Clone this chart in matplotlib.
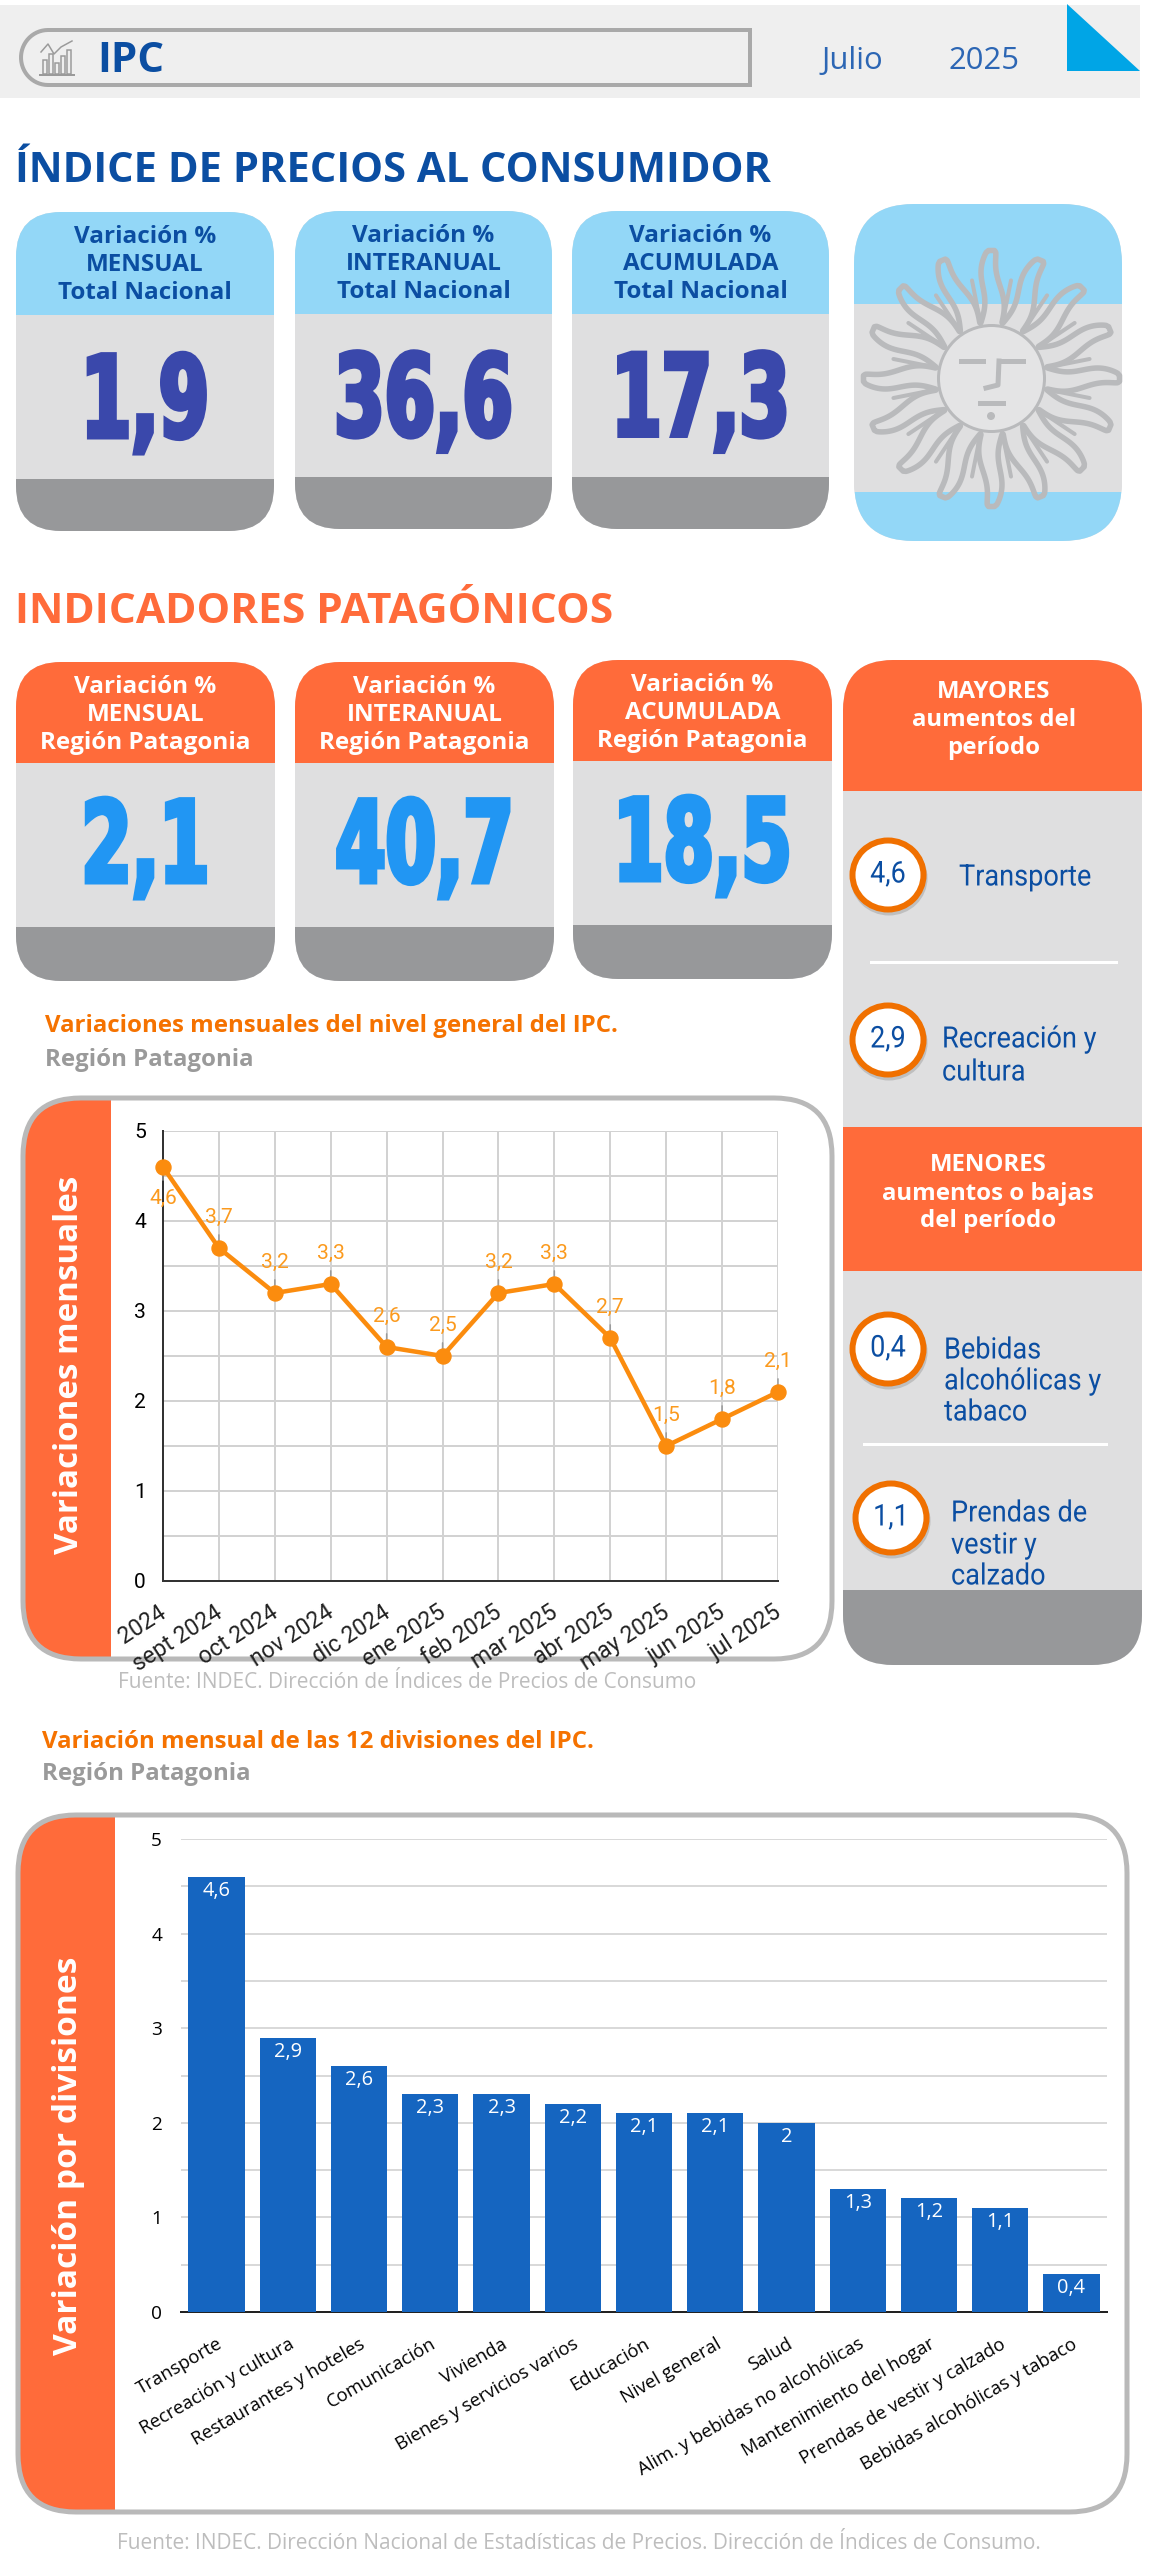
import matplotlib
matplotlib.use("Agg")
import matplotlib.pyplot as plt
import matplotlib.patheffects as pe
import numpy as np
from matplotlib.patches import Ellipse, FancyBboxPatch, Polygon, Rectangle
from matplotlib.transforms import Affine2D, Bbox

W, H = 1150, 2560
SANS = ["Open Sans", "DejaVu Sans"]
HEAVY = ["DejaVu Sans"]
ROBOTO = ["Roboto", "DejaVu Sans"]

BLUE_TXT = "#0b4ea2"
ORANGE = "#ff6b3a"
SKY = "#93d7f7"
CARD = "#dfdfe0"
BOTTOM = "#97989a"

MONTH = "Julio"
YEAR = "2025"
NATIONAL_KINDS = ["MENSUAL", "INTERANUAL", "ACUMULADA"]
NATIONAL_VALUES = ["1,9", "36,6", "17,3"]
PATAGONIA_VALUES = ["2,1", "40,7", "18,5"]

MONTHS = ["ago 2024", "sept 2024", "oct 2024", "nov 2024", "dic 2024", "ene 2025",
          "feb 2025", "mar 2025", "abr 2025", "may 2025", "jun 2025", "jul 2025"]
MONTHLY = [4.6, 3.7, 3.2, 3.3, 2.6, 2.5, 3.2, 3.3, 2.7, 1.5, 1.8, 2.1]

DIVISIONS = ["Transporte", "Recreación y cultura", "Restaurantes y hoteles", "Comunicación",
             "Vivienda", "Bienes y servicios varios", "Educación", "Nivel general", "Salud",
             "Alim. y bebidas no alcohólicas", "Mantenimiento del hogar",
             "Prendas de vestir y calzado", "Bebidas alcohólicas y tabaco"]
DIVISION_VALUES = [4.6, 2.9, 2.6, 2.3, 2.3, 2.2, 2.1, 2.1, 2.0, 1.3, 1.2, 1.1, 0.4]


class Condense(pe.AbstractPathEffect):
    """Squeeze text horizontally around x, with an optional outline to fatten it."""

    def __init__(self, x, factor, stroke=0.0):
        super().__init__()
        self.x = x
        self.factor = factor
        self.stroke = stroke

    def draw_path(self, renderer, gc, tpath, affine, rgbFace=None):
        squeeze = Affine2D().translate(-self.x, 0).scale(self.factor, 1).translate(self.x, 0)
        gc0 = renderer.new_gc()
        gc0.copy_properties(gc)
        gc0.set_linewidth(self.stroke * 0.72)
        gc0.set_foreground(rgbFace)
        gc0.set_joinstyle("miter")
        renderer.draw_path(gc0, tpath, affine + squeeze, rgbFace)
        gc0.restore()


def pt(px):
    """Font size or line width given in pixels, in points."""
    return px * 0.72


def comma(v):
    return f"{v:g}".replace(".", ",")


def add_text(bg, x, y, s, size, color, family=SANS, weight="normal", ha="center", **kw):
    if "rotation" not in kw:
        y += size * (0.09 if family is SANS else 0.05 if family is ROBOTO else 0)
    return bg.text(x, y, s, fontsize=pt(size), color=color, family=family, weight=weight,
                   ha=ha, va="center", **kw)


def rounded(bg, x0, y0, x1, y1, radius, **kw):
    patch = FancyBboxPatch((x0, y0), x1 - x0, y1 - y0,
                           boxstyle=f"round,pad=0,rounding_size={radius}", **kw)
    bg.add_patch(patch)
    return patch


def banded_card(bg, x0, y0, x1, y1, split1, split2, top, mid, bottom, radius=45):
    clip = rounded(bg, x0, y0, x1, y1, radius, facecolor=mid, edgecolor="none")
    for a, b, c in [(y0, split1, top), (split1, split2, mid), (split2, y1, bottom)]:
        r = Rectangle((x0, a), x1 - x0, b - a, facecolor=c, edgecolor="none")
        bg.add_patch(r)
        r.set_clip_path(clip)


def kpi_card(bg, x0, y0, x1, y1, split1, split2, top, lines, txt_color, value, val_color, dy=0):
    banded_card(bg, x0, y0, x1, y1, split1, split2, top, CARD, BOTTOM)
    cx = (x0 + x1) / 2
    for i, line in enumerate(lines):
        add_text(bg, cx, y0 + 23 + i * 27.7, line, 24.2, txt_color, weight="bold")
    add_text(bg, cx, (split1 + split2) / 2 + dy, value, 113, val_color, family=HEAVY, weight="bold",
             path_effects=[Condense(cx, 0.64, 5)])


def draw_header(bg):
    bg.add_patch(Rectangle((0, 5), 1140, 93, facecolor="#efefef", edgecolor="none"))
    t = np.linspace(np.pi / 2, 3 * np.pi / 2, 30)
    arc = np.c_[48 + 27 * np.cos(t), 57.5 - 27.5 * np.sin(t)]
    corners = np.array([[750, 85], [750, 30]])
    bg.add_patch(Polygon(np.r_[arc, corners], closed=True, facecolor="none",
                         edgecolor="#a9a9a9", lw=pt(4)))
    # small chart icon
    for bx, bh in zip([43, 49, 55, 61, 67], [14, 20, 11, 18, 24]):
        bg.add_patch(Rectangle((bx, 74 - bh), 4, bh, facecolor="none", edgecolor="#9a9a9a", lw=pt(1.5)))
    bg.plot([41, 48, 54, 61, 72], [52, 44, 54, 47, 41], color="#9a9a9a", lw=pt(1.5))
    bg.plot([40, 74], [75, 75], color="#9a9a9a", lw=pt(2))
    add_text(bg, 97, 58, "IPC", 42, BLUE_TXT, weight="bold", ha="left")
    add_text(bg, 852, 58, MONTH, 31, "#2c66b4")
    add_text(bg, 984, 58, YEAR, 31, "#2c66b4")
    bg.add_patch(Polygon([[1067, 4], [1140, 71], [1067, 71]], closed=True, facecolor="#00a5e6", edgecolor="none"))


def draw_sun(bg):
    banded_card(bg, 854, 204, 1122, 541, 304, 492, SKY, CARD, SKY, radius=60)
    cx, cy = 991.5, 378.5
    gray = "#b9babc"
    n = 16
    for k in range(n):
        ang = 2 * np.pi * k / n + np.pi / 2
        u = np.array([np.cos(ang), np.sin(ang)])
        v = np.array([-u[1], u[0]])
        s = np.linspace(0, 1, 40)
        r = 56 + 72 * s
        centre = 3 * np.sin(s * 2 * np.pi)
        half = 7.5 * (1 - s) ** 0.4 + 3
        left = [r_ * u + (c + h) * v for r_, c, h in zip(r, centre, half)]
        right = [r_ * u + (c - h) * v for r_, c, h in zip(r, centre, half)]
        pts = np.array(left + right[::-1]) + [cx, cy]
        bg.plot(pts[:, 0], pts[:, 1], color=gray, lw=pt(5.5), solid_capstyle="round")
        mid = ang + np.pi / n
        bg.plot([cx + 55 * np.cos(mid), cx + 100 * np.cos(mid)], [cy + 55 * np.sin(mid), cy + 100 * np.sin(mid)],
                color=gray, lw=pt(4), solid_capstyle="round")
    bg.add_patch(Ellipse((cx, cy), 106, 106, facecolor="#e4e4e5", edgecolor=gray, lw=pt(3), zorder=3))
    for xs, ys in [([961, 983], [361, 361]), ([1001, 1023], [361, 361]),
                   ([999, 998, 986], [361, 385, 388]), ([980, 1003], [403, 403])]:
        bg.plot(xs, ys, color=gray, lw=pt(5), zorder=4)
    bg.add_patch(Ellipse((991, 416), 8, 8, facecolor=gray, edgecolor="none", zorder=4))


def badge(bg, cx, cy, value):
    bg.add_patch(Ellipse((cx + 1, cy + 3), 77, 75, facecolor="#a0a0a0", edgecolor="none", alpha=0.5))
    bg.add_patch(Ellipse((cx, cy), 71, 69, facecolor="white", edgecolor="#f07000", lw=pt(6)))
    add_text(bg, cx, cy - 2, value, 30, BLUE_TXT, family=ROBOTO, path_effects=[Condense(cx, 0.9)])


def side_label(bg, x, ys, lines):
    for y, line in zip(ys, lines):
        add_text(bg, x, y, line, 29.5, BLUE_TXT, family=ROBOTO, ha="left",
                 path_effects=[Condense(x, 0.92)])


def draw_side_panel(bg):
    clip = rounded(bg, 843, 660, 1142, 1665, 50, facecolor=CARD, edgecolor="none")
    for a, b, c in [(660, 791, ORANGE), (1127, 1271, ORANGE), (1590, 1665, BOTTOM)]:
        r = Rectangle((843, a), 299, b - a, facecolor=c, edgecolor="none")
        bg.add_patch(r)
        r.set_clip_path(clip)
    for y, line in zip([690, 718, 746], ["MAYORES", "aumentos del", "período"]):
        add_text(bg, 994, y, line, 24, "white", weight="bold")
    for y, line in zip([1163, 1192, 1219], ["MENORES", "aumentos o bajas", "del período"]):
        add_text(bg, 988, y, line, 24, "white", weight="bold")
    badge(bg, 888, 875, comma(DIVISION_VALUES[0]))
    side_label(bg, 959, [876], [DIVISIONS[0]])
    bg.plot([871, 1116], [962, 962], color="white", lw=pt(3))
    badge(bg, 888, 1040, comma(DIVISION_VALUES[1]))
    side_label(bg, 942, [1038, 1071], ["Recreación y", "cultura"])
    badge(bg, 888, 1349, comma(DIVISION_VALUES[-1]))
    side_label(bg, 944, [1349, 1380, 1411], ["Bebidas", "alcohólicas y", "tabaco"])
    bg.plot([864, 1106], [1444, 1444], color="white", lw=pt(3))
    badge(bg, 891, 1518, comma(DIVISION_VALUES[-2]))
    side_label(bg, 951, [1512, 1544, 1575], ["Prendas de", "vestir y", "calzado"])


def chart_frame(bg, x0, y0, x1, y1, band_right, title, title_x, title_y, size):
    clip = rounded(bg, x0, y0, x1, y1, 58, facecolor="white", edgecolor="none")
    band = Rectangle((x0, y0), band_right - x0, y1 - y0, facecolor=ORANGE, edgecolor="none")
    bg.add_patch(band)
    band.set_clip_path(clip)
    rounded(bg, x0, y0, x1, y1, 58, facecolor="none", edgecolor="#b9b9b9", lw=pt(5))
    add_text(bg, title_x, title_y, title, size, "white", weight="bold", rotation=90)


def px_axes(fig, x0, y0, x1, y1):
    ax = fig.add_axes([x0 / W, 1 - y1 / H, (x1 - x0) / W, (y1 - y0) / H])
    ax.patch.set_alpha(0)
    return ax


def line_chart(fig):
    ax = px_axes(fig, 163, 1131, 778, 1581)
    x = np.arange(len(MONTHLY))
    ax.plot(x, MONTHLY, color="#fb8c0e", lw=pt(4.5), marker="o", ms=pt(15), clip_on=False, zorder=5)
    for i, v in enumerate(MONTHLY):
        off = 31 if i == 0 else -31
        ax.annotate(comma(v), (i, v), xytext=(0, -off * 0.72), textcoords="offset points",
                    ha="center", va="center", fontsize=pt(21), color="#fb9a1e", family=ROBOTO,
                    arrowprops=dict(arrowstyle="-", color="#9a9a9a", lw=pt(1.5), shrinkA=4, shrinkB=0),
                    zorder=4, annotation_clip=False)
    ax.set_xlim(0, 11)
    ax.set_ylim(0, 5)
    ax.set_yticks(range(6))
    ax.set_yticks(np.arange(0.5, 5, 1), minor=True)
    ax.set_xticks(x)
    ax.set_xticklabels(MONTHS, rotation=33, ha="right", rotation_mode="anchor", family=ROBOTO, fontsize=pt(23))
    ax.grid(True, which="both", color="#d2d2d2", lw=pt(2))
    ax.set_axisbelow(True)
    ax.tick_params(which="both", length=0)
    ax.tick_params(axis="y", pad=pt(17))
    ax.tick_params(axis="x", pad=pt(20), colors="#222222")
    for lab in ax.get_yticklabels():
        lab.set_family(ROBOTO)
        lab.set_fontsize(pt(21))
    for name in ("top", "right"):
        ax.spines[name].set_visible(False)
    for name in ("left", "bottom"):
        ax.spines[name].set_color("#333333")
        ax.spines[name].set_linewidth(pt(2))
    # the first label runs under the orange band and gets cut there
    clip = Bbox([[117, 0], [W, H]])
    shift = Affine2D().translate(-5, 0)
    for lab in ax.get_xticklabels():
        lab.set_transform(lab.get_transform() + shift)
        lab.set_clip_box(clip)
        lab.set_clip_on(True)


def bar_chart(fig):
    ax = px_axes(fig, 181, 1839, 1107, 2312)
    x = np.arange(len(DIVISION_VALUES))
    bars = ax.bar(x, DIVISION_VALUES, width=0.79, color="#1565c0", zorder=3)
    for rect, v in zip(bars, DIVISION_VALUES):
        ax.annotate(comma(v), (rect.get_x() + rect.get_width() / 2, v), xytext=(0, -14 * 0.72),
                    textcoords="offset points", ha="center", va="center", color="white",
                    fontsize=pt(20), family=SANS, zorder=4)
    ax.set_xlim(-0.5, 12.5)
    ax.set_ylim(0, 5)
    ax.set_yticks(range(6))
    ax.set_yticks(np.arange(0.5, 5, 1), minor=True)
    ax.set_xticks(x)
    ax.set_xticklabels(DIVISIONS, rotation=30, ha="right", rotation_mode="anchor", family=SANS, fontsize=pt(18.5))
    ax.grid(True, axis="y", which="both", color="#d9d9d9", lw=pt(2))
    ax.set_axisbelow(True)
    ax.tick_params(which="both", length=0)
    ax.tick_params(axis="y", pad=pt(19), labelsize=pt(19))
    ax.tick_params(axis="x", pad=pt(23))
    for lab in ax.get_yticklabels():
        lab.set_family(SANS)
    for name in ("top", "right", "left"):
        ax.spines[name].set_visible(False)
    ax.spines["bottom"].set_color("#222222")
    ax.spines["bottom"].set_linewidth(pt(2))


def main():
    fig = plt.figure(figsize=(W / 100, H / 100), dpi=100, facecolor="white")
    bg = fig.add_axes([0, 0, 1, 1])
    bg.set_xlim(0, W)
    bg.set_ylim(H, 0)
    bg.axis("off")

    draw_header(bg)
    add_text(bg, 15, 168, "ÍNDICE DE PRECIOS AL CONSUMIDOR", 41.6, BLUE_TXT, weight="bold", ha="left")

    boxes = [(16, 212, 274, 531, 315, 479), (295, 211, 552, 529, 314, 477), (572, 211, 829, 529, 314, 477)]
    for box, kind, value in zip(boxes, NATIONAL_KINDS, NATIONAL_VALUES):
        kpi_card(bg, *box, SKY, ["Variación %", kind, "Total Nacional"], BLUE_TXT, value, "#3a48ab", dy=9)
    draw_sun(bg)

    add_text(bg, 15, 609, "INDICADORES PATAGÓNICOS", 42.4, ORANGE, weight="bold", ha="left")
    boxes = [(16, 662, 275, 981, 763, 927), (295, 662, 554, 981, 763, 927), (573, 660, 832, 979, 761, 925)]
    for box, kind, value in zip(boxes, NATIONAL_KINDS, PATAGONIA_VALUES):
        kpi_card(bg, *box, ORANGE, ["Variación %", kind, "Región Patagonia"], "white", value, "#2196f3", dy=6)
    draw_side_panel(bg)

    add_text(bg, 45, 1024, "Variaciones mensuales del nivel general del IPC.", 24, "#f57200", weight="bold", ha="left")
    add_text(bg, 45, 1058, "Región Patagonia", 24, "#9a9a9a", weight="bold", ha="left")
    chart_frame(bg, 23, 1098, 832, 1659, 111, "Variaciones mensuales", 70, 1365, 33.2)
    line_chart(fig)
    add_text(bg, 118, 1681, "Fuente: INDEC. Dirección de Índices de Precios de Consumo", 20.85, "#bdbdbd", ha="left")

    add_text(bg, 42, 1740, "Variación mensual de las 12 divisiones del IPC.", 24, "#f57200", weight="bold", ha="left")
    add_text(bg, 42, 1772, "Región Patagonia", 24, "#9a9a9a", weight="bold", ha="left")
    chart_frame(bg, 18, 1815, 1127, 2512, 115, "Variación por divisiones", 69, 2156, 33.5)
    bar_chart(fig)
    add_text(bg, 117, 2542, "Fuente: INDEC. Dirección Nacional de Estadísticas de Precios. Dirección de Índices de Consumo.",
             20.9, "#bdbdbd", ha="left")

    fig.savefig("out.png", dpi=100)


if __name__ == "__main__":
    main()
